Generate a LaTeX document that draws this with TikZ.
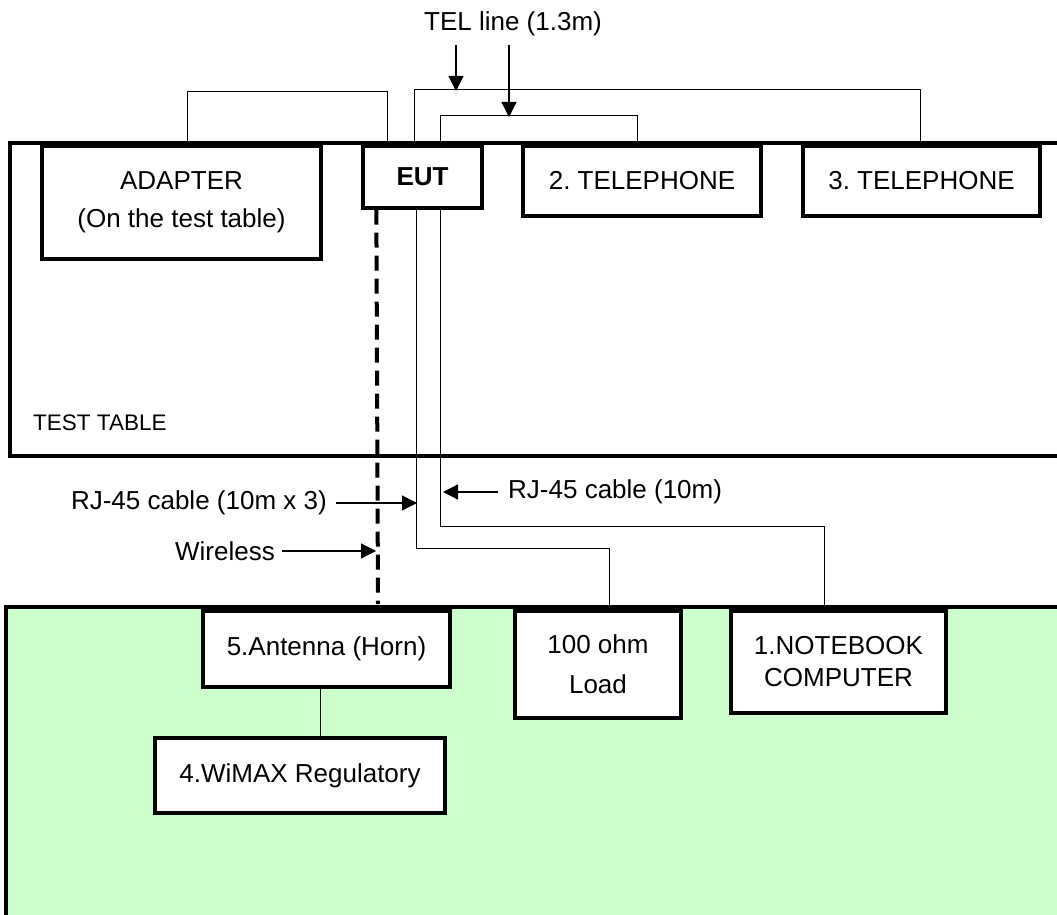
\documentclass[tikz,border=0pt]{standalone}
\usepackage{fontspec}
\setmainfont{Liberation Sans}
\usetikzlibrary{arrows.meta}
\definecolor{labgreen}{HTML}{CCFFCC}
\frenchspacing
\tikzset{
  box/.style={draw=black, line width=3.3pt, fill=white, align=center, inner sep=0pt,
    font=\fontsize{26}{31}\selectfont},
  wire/.style={draw=black, line width=1.3pt},
  wless/.style={draw=black, line width=4pt, dash pattern=on 15pt off 8pt},
  pointer/.style={draw=black, line width=1.3pt, -{Triangle[length=15pt,width=15pt]}},
  lbl/.style={inner sep=0pt, font=\fontsize{26}{31}\selectfont},
  area/.style={draw=black, line width=3.3pt}
}
\begin{document}
\begin{tikzpicture}[x=1pt,y=-1pt]
\useasboundingbox (0,0) rectangle (1057,915);
\clip (0,0) rectangle (1057,915);
% test table
\fill[white] (10,143) rectangle (1070,456);
\draw[area] (1070,143) -- (10,143) -- (10,456) -- (1070,456);
\node[lbl, anchor=west, font=\fontsize{22.5}{27}\selectfont] (tabletxt) at (33,423) {TEST TABLE};
% green area
\fill[labgreen] (6,607) rectangle (1070,930);
\draw[area] (1070,607) -- (6,607) -- (6,930);

% boxes on the table
\node[box, minimum width=279, minimum height=113] (adapter) at (181.5,202.5) {ADAPTER\\[7pt](On the test table)};
\node[box, minimum width=119, minimum height=62] (eut) at (422.5,177) {\bfseries EUT};
\node[box, minimum width=238, minimum height=70] (tel2) at (642,181) {2. TELEPHONE};
\node[box, minimum width=237, minimum height=70] (tel3) at (921.5,181) {3. TELEPHONE};
% boxes in the green area
\node[box, minimum width=247, minimum height=76] (antenna) at (326.5,649) {5.Antenna (Horn)};
\node[box, minimum width=290, minimum height=75] (wimax) at (300,775.5) {4.WiMAX Regulatory};
\node[box, minimum width=166, minimum height=107] (load) at (598,664.5) {100 ohm\\[9pt]Load};
\node[box, minimum width=215, minimum height=102] (notebook) at (838.5,662) {1.NOTEBOOK\\[1pt]COMPUTER};

% wires on top
\draw[wire] ([xshift=147pt]adapter.north west) -- ++(0,-53) -| ([xshift=26pt]eut.north west);
\draw[wire] ([xshift=53pt]eut.north west) -- ++(0,-55) -| ([xshift=119pt]tel3.north west);
\draw[wire] ([xshift=79pt]eut.north west) -- ++(0,-29) -| ([xshift=116pt]tel2.north west);
% RJ-45 wires
\draw[wire] ([xshift=55pt]eut.south west) -- ++(0,339) -| ([xshift=96pt]load.north west);
\draw[wire] ([xshift=79pt]eut.south west) -- ++(0,317) -| ([xshift=95pt]notebook.north west);
% wireless
\coordinate (wstart) at ([xshift=15pt]eut.south west);
\coordinate (wend) at (378,604);
\draw[wless] (wstart) -- (wend);
% antenna to WiMAX
\coordinate (aw) at ([xshift=119pt]antenna.south west);
\draw[wire] (aw) -- (aw |- wimax.north);

% labels and pointers
\node[lbl] (tellbl) at (513,24) {TEL line (1.3m)};
\coordinate (t1a) at (456,45); \coordinate (t1b) at (456,91);
\coordinate (t2a) at (509,45); \coordinate (t2b) at (509,117);
\draw[pointer] (t1a) -- (t1b);
\draw[pointer] (t2a) -- (t2b);

\node[lbl, anchor=east] (rj3lbl) at (327,503) {RJ-45 cable (10m x 3)};
\coordinate (r3a) at (336,503); \coordinate (r3b) at (417,503);
\draw[pointer] (r3a) -- (r3b);

\node[lbl, anchor=west] (rj1lbl) at (508,492) {RJ-45 cable (10m)};
\coordinate (r1a) at (498,492); \coordinate (r1b) at (443,492);
\draw[pointer] (r1a) -- (r1b);

\node[lbl, anchor=east] (wlbl) at (275,551) {Wireless};
\coordinate (wla) at (282,551); \coordinate (wlb) at (376,551);
\draw[pointer] (wla) -- (wlb);
\end{tikzpicture}
\end{document}
